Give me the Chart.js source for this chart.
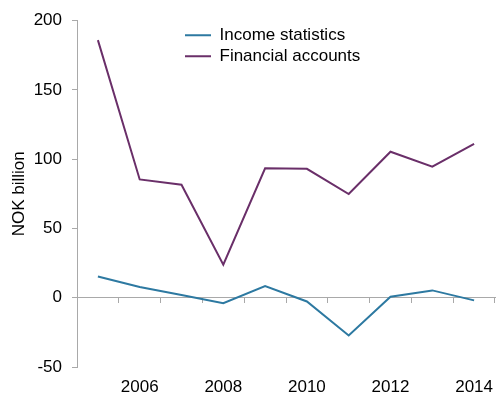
<!DOCTYPE html>
<html>
<head>
<meta charset="utf-8">
<script src="https://cdn.jsdelivr.net/npm/chart.js@4/dist/chart.umd.min.js"></script>
<style>
  html, body { margin: 0; padding: 0; background: #fff; }
  #wrap { width: 496px; height: 397px; position: relative; }
</style>
</head>
<body>
<div id="wrap"><canvas id="c" width="496" height="397"></canvas></div>
<script>
const years = ['2005', '2006', '2007', '2008', '2009', '2010', '2011', '2012', '2013', '2014'];
const incomeStatistics = [15.4, 7.7, 2, -4, 8.5, -2.7, -27.2, 0.7, 5.3, -1.9];
const financialAccounts = [186, 85.4, 81.6, 23.8, 93.4, 93.1, 74.9, 105.4, 94.6, 111];
const yTicks = [-50, 0, 50, 100, 150, 200];
const seriesNames = ['Income statistics', 'Financial accounts'];
const yTitle = 'NOK billion';

const FONT = 'Liberation Sans, Arial, sans-serif';
const AXIS_GREY = '#a9a9a9';
const BLUE = '#2d79a1';
const PURPLE = '#6a2f69';

const legendInside = {
  id: 'legendInside',
  afterInit(chart) {
    const lg = chart.legend;
    const fit = lg.fit;
    lg.fit = function () { fit.call(this); this.width = 0; };
  },
  afterLayout(chart) {
    const lg = chart.legend;
    lg.left = 181;
    lg.top = 22.8;
    lg.right = 480;
    lg.bottom = 95;
    lg.width = lg.right - lg.left;
    lg.height = lg.bottom - lg.top;
  }
};

new Chart(document.getElementById('c'), {
  type: 'line',
  data: {
    labels: years,
    datasets: [
      { label: seriesNames[0], data: incomeStatistics, borderColor: BLUE, backgroundColor: BLUE,
        borderWidth: 2, pointRadius: 0, tension: 0, fill: false },
      { label: seriesNames[1], data: financialAccounts, borderColor: PURPLE, backgroundColor: PURPLE,
        borderWidth: 2, pointRadius: 0, tension: 0, fill: false }
    ]
  },
  plugins: [legendInside],
  options: {
    responsive: false,
    animation: false,
    events: [],
    layout: { padding: { top: 20.7, right: 1, bottom: 0, left: 0 } },
    plugins: {
      tooltip: { enabled: false },
      legend: {
        position: 'left',
        align: 'start',
        labels: {
          font: { family: FONT, size: 17 },
          color: '#000',
          boxWidth: 26,
          boxHeight: 2,
          padding: 4,
          generateLabels(chart) {
            const items = Chart.defaults.plugins.legend.labels.generateLabels(chart);
            items.forEach(it => { it.fillStyle = it.strokeStyle; it.lineWidth = 0; });
            return items;
          }
        }
      }
    },
    scales: {
      x: {
        type: 'category',
        position: { y: 0 },
        offset: true,
        grid: { display: true, offset: true, drawOnChartArea: false, drawTicks: true, tickLength: 5, color: AXIS_GREY, lineWidth: 1 },
        border: { display: true, color: AXIS_GREY, width: 1 },
        ticks: { display: false },
        afterFit(s) { s.paddingLeft = 0; s.paddingRight = 0; }
      },
      x2: {
        type: 'category',
        position: 'bottom',
        labels: years,
        offset: true,
        grid: { display: false, drawTicks: false },
        border: { display: false },
        ticks: {
          autoSkip: false,
          maxRotation: 0,
          padding: 10,
          color: '#000',
          font: { family: FONT, size: 17 },
          callback: function (v, i) { return (parseInt(years[i], 10) % 2 === 0) ? years[i] : ''; }
        },
        afterFit(s) { s.height = 30; s.paddingLeft = 0; s.paddingRight = 0; }
      },
      y: {
        type: 'linear',
        min: yTicks[0],
        max: yTicks[yTicks.length - 1],
        afterBuildTicks(s) { s.ticks = yTicks.map(v => ({ value: v })); },
        grid: { drawOnChartArea: false, drawTicks: true, tickLength: 5, color: AXIS_GREY, lineWidth: 1 },
        border: { display: true, color: AXIS_GREY, width: 1 },
        ticks: { color: '#000', padding: 10, font: { family: FONT, size: 17 } },
        title: {
          display: true,
          text: yTitle,
          color: '#000',
          font: { family: FONT, size: 17 },
          padding: { top: 9, bottom: 0 }
        },
        afterFit(s) { s.width = 77; }
      }
    }
  }
});
</script>
</body>
</html>
